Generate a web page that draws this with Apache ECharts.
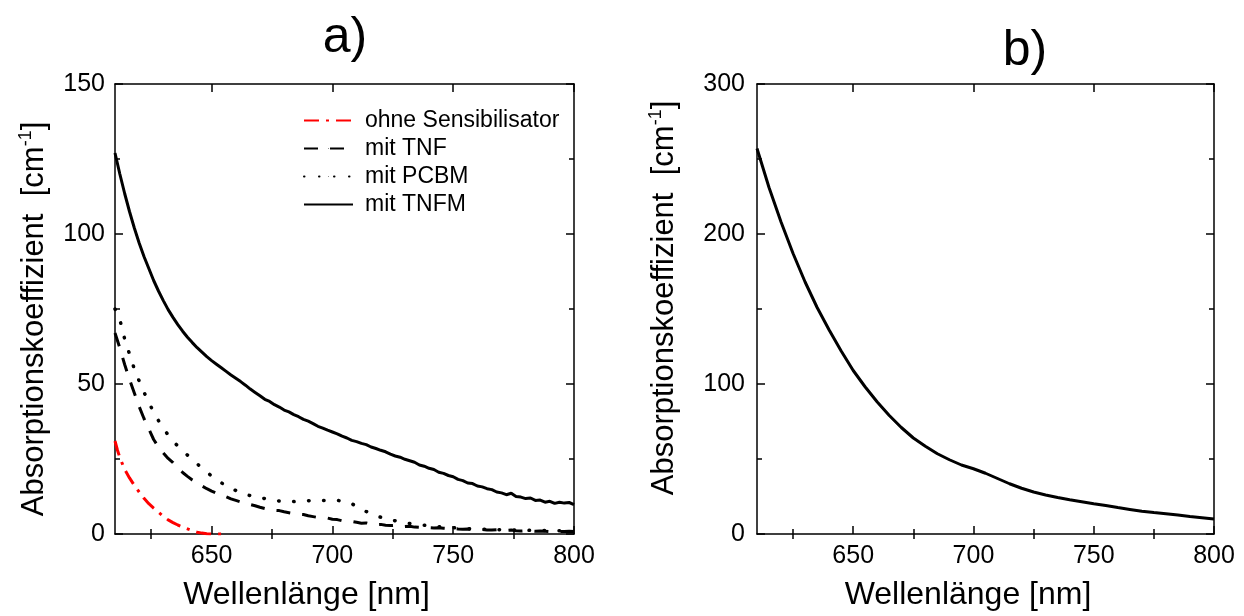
<!DOCTYPE html>
<html><head><meta charset="utf-8">
<script src="https://cdn.jsdelivr.net/npm/echarts@6/dist/echarts.min.js"></script>
<style>html,body{margin:0;padding:0;background:#fff}#c{width:1244px;height:616px}</style>
</head><body><div id="c"></div>
<script>
const FONT = '"Liberation Sans", Arial, sans-serif';
const titles = ['a)', 'b)'];
const xName = 'Wellenlänge [nm]';
const yName = 'Absorptionskoeffizient  [cm{sup|-1}]';
const legendNames = ['ohne Sensibilisator', 'mit TNF', 'mit PCBM', 'mit TNFM'];
const xTickLabels = [650, 700, 750, 800];
const xMinorTicks = [625, 675, 725, 775];

const lambdaA = [
 610,612,614,616,618,620,622,624,626,628,
 630,632,634,636,638,640,642,644,646,648,
 650,652,654,656,658,660,662,664,666,668,
 670,672,674,676,678,680,682,684,686,688,
 690,692,694,696,698,700,702,704,706,708,
 710,712,714,716,718,720,722,724,726,728,
 730,732,734,736,738,740,742,744,746,748,
 750,752,754,756,758,760,762,764,766,768,
 770,772,774,776,778,780,782,784,786,788,
 790,792,794,796,798,800];
const tnfm = [
 127,120,113.5,107.5,102,97,92.5,88.5,84.5,81,
 77.8,74.8,72.2,69.8,67.6,65.6,63.8,62.1,60.6,59.1,
 57.8,56.6,55.4,54.2,53,51.9,50.8,49.6,48.3,47.2,
 46.1,44.9,44.2,43.1,42.3,41.3,40.7,39.8,39.1,38.2,
 37.6,36.8,35.9,35.3,34.6,34.0,33.4,32.6,32.0,31.2,
 30.8,30.2,29.8,29.0,28.5,27.9,27.4,26.6,26.0,25.6,
 24.9,24.4,23.9,23.0,22.6,21.9,21.5,20.6,20.2,19.5,
 19.1,18.2,17.8,17.0,16.8,16.0,15.7,15.1,14.8,14.0,
 13.7,13.1,13.6,12.5,12.3,11.8,12.0,11.2,11.3,10.6,
 10.9,10.2,10.6,10.3,10.5,9.8];
const pcbm = [
 75,71.5,65,60,55,51,47.3,43.8,40.7,37.8,
 35.2,33,31,29.3,27.7,26.3,24.8,23.4,22,20.7,
 19.3,18.1,17.1,16,15.2,14.5,13.8,13.2,12.8,12.4,
 12.1,11.8,11.4,11.2,11,10.9,10.8,10.8,10.9,11,
 11.1,11.2,11.2,11.2,11.2,11.2,11.2,11,10.7,10.1,
 9.2,8.3,7.5,6.8,6.1,5.6,5.2,4.7,4.4,4.1,
 3.8,3.5,3.3,3.1,2.9,2.7,2.6,2.4,2.3,2.2,
 2.1,2.0,1.9,1.8,1.7,1.7,1.6,1.6,1.5,1.5,
 1.4,1.4,1.4,1.3,1.3,1.3,1.2,1.2,1.2,1.2,
 1.1,1.1,1.1,1.1,1.1,1.1];
const tnf = [
 67,62,56.5,51.5,47,42.5,38.5,35,31.5,29,
 27,25.2,23.8,22,20.5,19.2,18,17,16,15.1,
 14.3,13.6,13,12.4,11.7,11.2,10.7,10.3,9.8,9.4,
 8.9,8.5,8.2,7.9,7.8,7.4,7.1,6.8,6.6,6.5,
 6.1,5.8,5.5,5.4,5.3,4.9,4.8,4.4,4.3,4.2,
 3.9,3.6,3.7,3.3,3.1,3.2,2.9,2.8,2.9,2.6,
 2.5,2.6,2.3,2.2,2.3,2.1,2.0,2.1,1.9,1.8,
 1.9,1.7,1.6,1.7,1.5,1.4,1.5,1.3,1.3,1.4,
 1.2,1.2,1.3,1.1,1.0,1.1,1.0,0.9,1.0,0.9,
 0.8,0.9,0.8,0.8,0.9,0.8];
const lambdaOhne = [610,611,612,614,616,618,620,622,624,626,628,630,632,634,636,638,640,642,644,646,648,650,652,654];
const ohne = [31,28,25.5,21.5,18.7,16.2,14,11.9,10.1,8.6,7.3,5.9,4.7,3.8,3.0,2.3,1.7,1.1,0.6,0.3,0.1,0,0,0];

const lambdaB = [610,615,620,625,630,635,640,645,650,655,660,665,670,675,680,685,690,695,700,705,710,715,720,725,730,735,740,745,750,755,760,765,770,775,780,785,790,795,800];
const absB = [257,231,208,187,168,151,136,122,109,98,88,79,71,64,58.5,53.5,49.5,46,43.5,40.5,37,33.5,30.5,28,26,24.3,22.8,21.5,20.2,19,17.6,16.4,15.2,14.3,13.5,12.6,11.6,10.8,10];

const zip = (xs, ys) => xs.map((x, i) => [x, ys[i]]);
const BLK = '#000';
const lineS = {color: BLK, width: 1.5};

function xAxesFor(gi, namePadRight) {
  const base = {gridIndex: gi, type: 'value', min: 610, max: 800, splitLine: {show: false}};
  return [
    Object.assign({}, base, {
      position: 'bottom',
      axisLine: {show: true, onZero: false, lineStyle: lineS},
      axisTick: {show: true, inside: true, length: 8, customValues: xTickLabels, lineStyle: lineS},
      axisLabel: {show: true, customValues: xTickLabels, color: BLK, fontSize: 25, fontFamily: FONT, margin: 10},
      name: xName, nameLocation: 'middle', nameGap: 45,
      nameTextStyle: {color: BLK, fontSize: 32, fontFamily: FONT, padding: [0, namePadRight, 0, 0]}
    }),
    Object.assign({}, base, {
      position: 'bottom',
      axisLine: {show: false},
      axisTick: {show: true, inside: true, length: 5, customValues: xMinorTicks, lineStyle: lineS},
      axisLabel: {show: false}
    }),
    Object.assign({}, base, {
      position: 'top',
      axisLine: {show: true, onZero: false, lineStyle: lineS},
      axisTick: {show: true, inside: true, length: 8, customValues: xTickLabels, lineStyle: lineS},
      axisLabel: {show: false}
    }),
    Object.assign({}, base, {
      position: 'top',
      axisLine: {show: false},
      axisTick: {show: true, inside: true, length: 5, customValues: xMinorTicks, lineStyle: lineS},
      axisLabel: {show: false}
    })
  ];
}

function yAxesFor(gi, max, interval, nameGap, namePad, labelMargin) {
  const base = {
    gridIndex: gi, type: 'value', min: 0, max: max, interval: interval,
    splitLine: {show: false}, minorSplitLine: {show: false},
    axisLine: {show: true, onZero: false, lineStyle: lineS},
    axisTick: {show: true, inside: true, length: 8, lineStyle: lineS},
    minorTick: {show: true, splitNumber: 2, length: 5, lineStyle: lineS}
  };
  return [
    Object.assign({}, base, {
      position: 'left',
      axisLabel: {show: true, color: BLK, fontSize: 25, fontFamily: FONT, margin: labelMargin},
      name: yName, nameLocation: 'middle', nameGap: nameGap,
      nameTextStyle: {
        color: BLK, fontSize: 31, fontFamily: FONT, lineHeight: 34, padding: namePad,
        rich: {sup: {fontSize: 18, fontFamily: FONT, color: BLK, verticalAlign: 'top', lineHeight: 34}}
      }
    }),
    Object.assign({}, base, {position: 'right', axisLabel: {show: false}})
  ];
}

const chart = echarts.init(document.getElementById('c'), null, {renderer: 'canvas'});
const option = {
  backgroundColor: '#fff',
  animation: false,
  textStyle: {fontFamily: FONT},
  graphic: [
    {type: 'text', x: 345, y: 38, style: {text: titles[0], fontSize: 50, fontFamily: FONT, fill: BLK, align: 'center', verticalAlign: 'middle'}},
    {type: 'text', x: 1025, y: 51, style: {text: titles[1], fontSize: 50, fontFamily: FONT, fill: BLK, align: 'center', verticalAlign: 'middle'}}
  ],
  grid: [
    {left: 115, top: 84, width: 459, height: 455},
    {left: 757, top: 84, width: 457, height: 455}
  ],
  legend: {
    orient: 'vertical', left: 303, top: 109, padding: 0, itemWidth: 49, itemHeight: 1, itemGap: 5,
    selectedMode: false, data: legendNames,
    textStyle: {color: BLK, fontSize: 23, fontFamily: FONT, padding: [0, 0, 0, 7]}
  },
  xAxis: xAxesFor(0, 76).concat(xAxesFor(1, 35)),
  yAxis: yAxesFor(0, 150, 50, 64, [0, 20, 0, 0], 10).concat(yAxesFor(1, 300, 100, 76, [0, 0, 0, 22], 12)),
  series: [
    {name: legendNames[0], type: 'line', xAxisIndex: 0, yAxisIndex: 0, symbol: 'none', data: zip(lambdaOhne, ohne),
     lineStyle: {color: '#ff0000', width: 3, type: [15, 7, 3, 7]}, itemStyle: {color: '#ff0000'}},
    {name: legendNames[1], type: 'line', xAxisIndex: 0, yAxisIndex: 0, symbol: 'none', data: zip(lambdaA, tnf),
     lineStyle: {color: BLK, width: 3, type: [14, 12]}, itemStyle: {color: BLK}},
    {name: legendNames[2], type: 'line', xAxisIndex: 0, yAxisIndex: 0, symbol: 'none', data: zip(lambdaA, pcbm),
     lineStyle: {color: BLK, width: 3.5, type: [0.5, 14.5], cap: 'round'}, itemStyle: {color: BLK}},
    {name: legendNames[3], type: 'line', xAxisIndex: 0, yAxisIndex: 0, symbol: 'none', data: zip(lambdaA, tnfm),
     lineStyle: {color: BLK, width: 3}, itemStyle: {color: BLK}},
    {name: 'b', type: 'line', xAxisIndex: 4, yAxisIndex: 2, symbol: 'none', data: zip(lambdaB, absB),
     lineStyle: {color: BLK, width: 3}, itemStyle: {color: BLK}}
  ]
};
chart.setOption(option);
</script>
</body></html>
